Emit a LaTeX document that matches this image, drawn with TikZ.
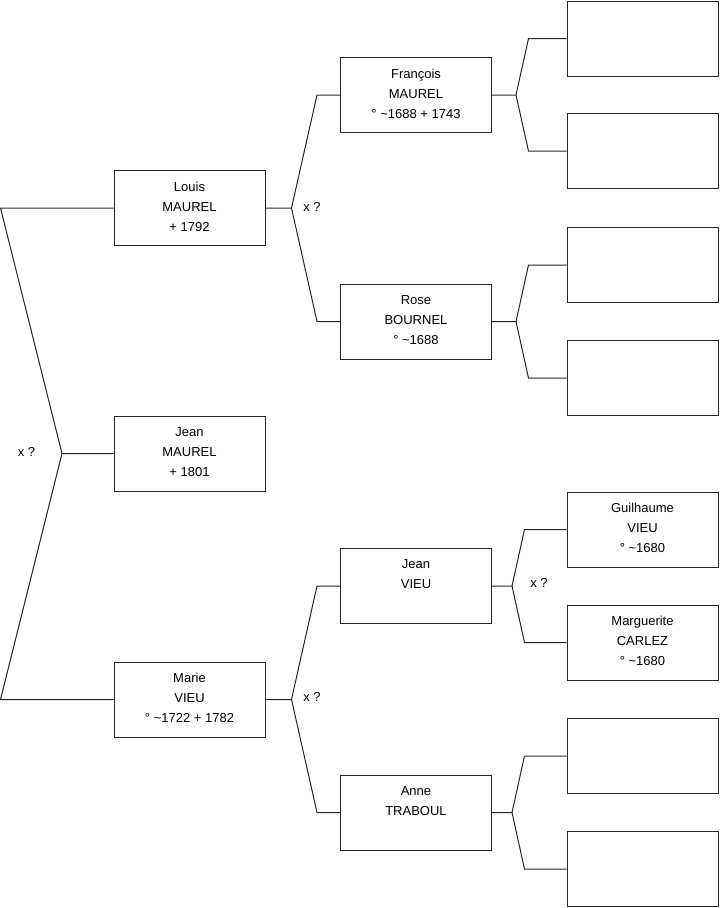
\documentclass[tikz,border=0pt]{standalone}
\usepackage{fontspec}
\setmainfont{Liberation Sans}
\begin{document}
\begin{tikzpicture}[x=0.75pt,y=-0.75pt,
  person/.style={draw=black!85, line width=0.75pt, minimum width=113.25pt, minimum height=56.25pt, inner sep=0pt},
  conn/.style={draw=black!85, line width=0.75pt},
  ptext/.style={anchor=north, align=center, inner sep=0pt, font=\fontsize{9.75pt}{15pt}\selectfont, yshift=-8.5pt},
  union/.style={font=\fontsize{9.75pt}{15pt}\selectfont, inner sep=0pt}]
\useasboundingbox (0,0) rectangle (719,908);
% level 1
\node[person] (louis) at (189.5,208) {};
\node[person] (jean) at (189.5,453.5) {};
\node[person] (marie) at (189.5,699.5) {};
% level 2
\node[person] (francois) at (416,95) {};
\node[person] (rose) at (416,321.5) {};
\node[person] (jeanv) at (416,586) {};
\node[person] (anne) at (416,812.5) {};
% level 3
\node[person] (g1) at (642.5,38.5) {};
\node[person] (g2) at (642.5,151) {};
\node[person] (g3) at (642.5,265) {};
\node[person] (g4) at (642.5,378) {};
\node[person] (guil) at (642.5,529.5) {};
\node[person] (marg) at (642.5,642.5) {};
\node[person] (g7) at (642.5,756) {};
\node[person] (g8) at (642.5,869) {};
% texts
\node[ptext] at (louis.north) {Louis\\MAUREL\\+ 1792};
\node[ptext] at (jean.north) {Jean\\MAUREL\\+ 1801};
\node[ptext] at (marie.north) {Marie\\VIEU\\° \textasciitilde1722 + 1782};
\node[ptext] at (francois.north) {François\\MAUREL\\° \textasciitilde1688 + 1743};
\node[ptext] at (rose.north) {Rose\\BOURNEL\\° \textasciitilde1688};
\node[ptext] at (jeanv.north) {Jean\\VIEU};
\node[ptext] at (anne.north) {Anne\\TRABOUL};
\node[ptext] at (guil.north) {Guilhaume\\VIEU\\° \textasciitilde1680};
\node[ptext] at (marg.north) {Marguerite\\CARLEZ\\° \textasciitilde1680};
% root fork
\coordinate (r0) at (62,453.5);
\draw[conn] (jean.west) -- (r0) -- ([xshift=-84.75pt]louis.west) -- (louis.west);
\draw[conn] (r0) -- ([xshift=-84.75pt]marie.west) -- (marie.west);
\node[union] at (26.5,452) {x ?};
% level 1 -> 2
\foreach \p/\a/\b in {louis/francois/rose, marie/jeanv/anne}{
  \draw[conn] (\p.east) -- ++(19.5pt,0) coordinate (ap) -- ([xshift=-17.25pt]\a.west) -- (\a.west);
  \draw[conn] (ap) -- ([xshift=-17.25pt]\b.west) -- (\b.west);
}
\node[union] at (312,207) {x ?};
\node[union] at (312,697) {x ?};
% level 2 -> 3
\foreach \p/\a/\b/\ax/\bx in {francois/g1/g2/18pt/28.5pt, rose/g3/g4/18pt/28.5pt, jeanv/guil/marg/15pt/31.5pt, anne/g7/g8/15pt/31.5pt}{
  \draw[conn] (\p.east) -- ++(\ax,0) coordinate (ap) -- ([xshift=-\bx]\a.west) -- (\a.west);
  \draw[conn] (ap) -- ([xshift=-\bx]\b.west) -- (\b.west);
}
\node[union] at (539,583) {x ?};
\end{tikzpicture}
\end{document}
